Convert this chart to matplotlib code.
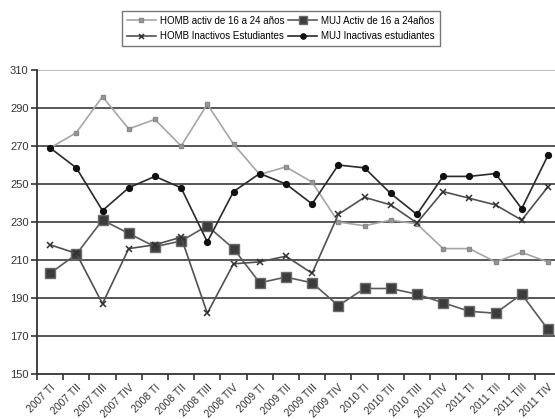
import matplotlib
matplotlib.use("Agg")
import matplotlib.pyplot as plt
import numpy as np

plt.rcParams['font.family'] = ['Liberation Sans', 'DejaVu Sans']

categories = ["2007 TI", "2007 TII", "2007 TIII", "2007 TIV",
              "2008 TI", "2008 TII", "2008 TIII", "2008 TIV",
              "2009 TI", "2009 TII", "2009 TIII", "2009 TIV",
              "2010 TI", "2010 TII", "2010 TIII", "2010 TIV",
              "2011 TI", "2011 TII", "2011 TIII", "2011 TIV"]

homb_activ = [269, 277, 296, 279, 284, 270, 292, 271, 255, 259,
              251, 230, 228, 231, 229, 216, 216, 209, 214, 209]
muj_activ = [203, 213, 231, 224, 217, 220, 228, 216, 198, 201,
             198, 186, 195, 195, 192, 187.5, 183, 182, 192, 173.5]
homb_inact = [218, 213.5, 187, 216, 218, 222, 182, 208, 209, 212,
              203, 234, 243, 239, 229.5, 246, 242.5, 239, 231, 248.5]
muj_inact = [269, 258.5, 236, 248, 254, 248, 219.5, 246, 255.5, 250,
             239.5, 260, 258.5, 245, 234, 254, 254, 255.5, 237, 265]

yticks = [150, 170, 190, 210, 230, 250, 270, 290, 310]

fig = plt.figure(figsize=(5.55, 4.19), dpi=100)
ax = fig.add_axes([37/555, 45/419, 524/555, 304/419])

x = np.arange(len(categories))

l1, = ax.plot(x, homb_activ, color='#a6a6a6', lw=1.2, marker='s', ms=3.5,
              mfc='#9a9a9a', mec='#8a8a8a', label='HOMB activ de 16 a 24 años', zorder=3)
l2, = ax.plot(x, muj_activ, color='#5a5a5a', lw=1.2, marker='s', ms=6.5,
              mfc='#3c3c3c', mec='#6a6a6a', label='MUJ Activ de 16 a 24años', zorder=3)
l3, = ax.plot(x, homb_inact, color='#505050', lw=1.2, marker='x', ms=4,
              mec='#303030', mew=1.1, label='HOMB Inactivos Estudiantes', zorder=4)
l4, = ax.plot(x, muj_inact, color='#2a2a2a', lw=1.2, marker='o', ms=4.2,
              mfc='#111111', mec='#111111', label='MUJ Inactivas estudiantes', zorder=5)

ax.set_xlim(-0.5, len(categories) - 0.5)
ax.set_ylim(150, 310)
ax.set_yticks(yticks)
ax.set_yticklabels([str(v) for v in yticks], fontsize=8, color='#333333')
for v in yticks[1:-1]:
    ax.axhline(v, color='#4a4a4a', lw=1.3, zorder=1)
ax.axhline(310, color='#bbbbbb', lw=1.3, zorder=1)

ax.set_xticks(x)
ax.set_xticklabels(categories, rotation=45, ha='right', rotation_mode='anchor',
                   fontsize=7.5, color='#333333')
ax.set_xticks(np.arange(-0.5, len(categories), 1), minor=True)
ax.tick_params(axis='x', which='major', length=0, pad=6)
ax.tick_params(axis='x', which='minor', length=4, width=1.2, color='#333333', direction='out')
ax.tick_params(axis='y', length=4, width=1.2, color='#333333', direction='out', pad=2)

for s in ['top', 'right']:
    ax.spines[s].set_visible(False)
ax.spines['left'].set_color('#333333')
ax.spines['left'].set_linewidth(1.3)
ax.spines['bottom'].set_color('#333333')
ax.spines['bottom'].set_linewidth(1.3)

leg = fig.legend(handles=[l1, l3, l2, l4], ncol=2, loc='upper left',
                 bbox_to_anchor=(117/555, 1 - 6/419), fontsize=7,
                 frameon=True, fancybox=False, edgecolor='#555555',
                 handlelength=3.0, handletextpad=0.4, columnspacing=0.4,
                 borderpad=0.5, labelspacing=0.55, markerscale=0.9)
leg.get_frame().set_linewidth(1.0)

fig.savefig('out.png', dpi=100)
